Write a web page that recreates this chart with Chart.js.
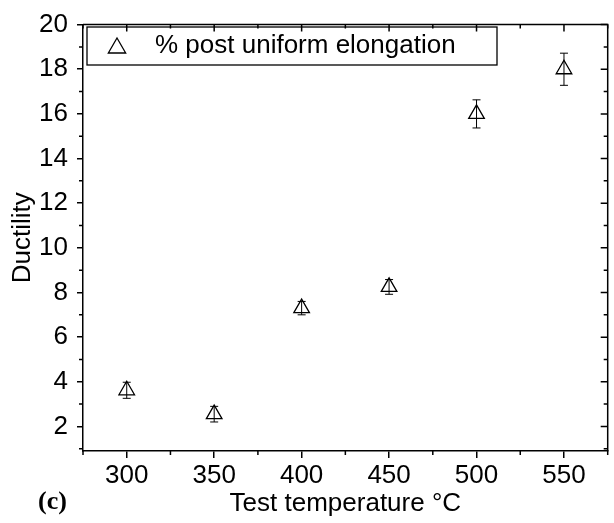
<!DOCTYPE html>
<html>
<head>
<meta charset="utf-8">
<script src="https://cdn.jsdelivr.net/npm/chart.js@4.4.0/dist/chart.umd.min.js"></script>
<style>
  html, body { margin: 0; padding: 0; background: #fff; overflow: hidden; }
  #wrap { position: relative; width: 618px; height: 523px; }
</style>
</head>
<body>
<div id="wrap"><canvas id="ductilityChart"></canvas></div>
<script>
const temperatures = [300, 350, 400, 450, 500, 550];
const ductility = [3.62, 2.55, 7.3, 8.25, 16.0, 18.0];
const ductilityErr = [0.36, 0.35, 0.3, 0.33, 0.63, 0.72];
const xTicks = [300, 350, 400, 450, 500, 550];
const yTicks = [2, 4, 6, 8, 10, 12, 14, 16, 18, 20];
const seriesLabel = '% post uniform elongation';

const FONT = "'Liberation Sans', Arial, sans-serif";

// minor ticks, top/right mirror axes, legend box and panel tag
const framePlugin = {
    id: 'frame',
    afterDraw(chart) {
        const ctx = chart.ctx;
        const a = chart.chartArea;
        const xs = chart.scales.x;
        const ys = chart.scales.y;
        ctx.save();
        ctx.strokeStyle = '#000';
        ctx.lineWidth = 1.5;
        ctx.beginPath();
        ctx.moveTo(a.left, a.top);
        ctx.lineTo(a.right, a.top);
        ctx.lineTo(a.right, a.bottom);
        ctx.stroke();

        const step = xTicks[1] - xTicks[0];
        ctx.beginPath();
        xTicks.forEach(v => {
            const px = xs.getPixelForValue(v);
            ctx.moveTo(px, a.top); ctx.lineTo(px, a.top + 7);
        });
        for (let v = xTicks[0] - step / 2; v <= xs.max; v += step) {
            const px = xs.getPixelForValue(v);
            ctx.moveTo(px, a.bottom); ctx.lineTo(px, a.bottom + 4);
            ctx.moveTo(px, a.top); ctx.lineTo(px, a.top + 4);
        }
        const ystep = yTicks[1] - yTicks[0];
        yTicks.forEach(v => {
            const py = ys.getPixelForValue(v);
            ctx.moveTo(a.right, py); ctx.lineTo(a.right - 7, py);
        });
        for (let v = yTicks[0] - ystep / 2; v < ys.max; v += ystep) {
            if (v < ys.min) continue;
            const py = ys.getPixelForValue(v);
            ctx.moveTo(a.left, py); ctx.lineTo(a.left - 4, py);
            ctx.moveTo(a.right, py); ctx.lineTo(a.right - 4, py);
        }
        ctx.stroke();

        // legend box
        ctx.lineWidth = 1.3;
        ctx.strokeRect(87, 27, 410, 38);
        ctx.fillStyle = 'rgba(0,0,0,0)';
        Chart.helpers.drawPoint(ctx, { pointStyle: 'triangle', radius: 10, borderWidth: 1.3 }, 117, 48);
        ctx.fillStyle = '#000';
        ctx.font = '26px ' + FONT;
        ctx.textBaseline = 'middle';
        ctx.fillText(chart.data.datasets[0].label, 155, 46);

        ctx.font = "bold 26px 'Liberation Serif', 'Times New Roman', serif";
        ctx.fillText('(c)', 38, 502);
        ctx.restore();
    }
};

const errorBarPlugin = {
    id: 'errorBars',
    beforeDatasetsDraw(chart) {
        const ctx = chart.ctx;
        const xs = chart.scales.x;
        const ys = chart.scales.y;
        ctx.save();
        ctx.strokeStyle = '#000';
        ctx.lineWidth = 1;
        ctx.beginPath();
        temperatures.forEach((t, i) => {
            const px = xs.getPixelForValue(t);
            const top = ys.getPixelForValue(ductility[i] + ductilityErr[i]);
            const bot = ys.getPixelForValue(ductility[i] - ductilityErr[i]);
            ctx.moveTo(px, top); ctx.lineTo(px, bot);
            ctx.moveTo(px - 4, top); ctx.lineTo(px + 4, top);
            ctx.moveTo(px - 4, bot); ctx.lineTo(px + 4, bot);
        });
        ctx.stroke();
        ctx.restore();
    }
};

new Chart(document.getElementById('ductilityChart'), {
    type: 'scatter',
    data: {
        datasets: [{
            label: seriesLabel,
            data: temperatures.map((t, i) => ({ x: t, y: ductility[i] })),
            pointStyle: 'triangle',
            pointRadius: 9,
            pointHoverRadius: 9,
            borderColor: '#000',
            backgroundColor: 'rgba(0,0,0,0)',
            borderWidth: 1.3
        }]
    },
    options: {
        responsive: true,
        maintainAspectRatio: false,
        animation: false,
        layout: { padding: { top: 20, right: 3, left: 0, bottom: 0 } },
        plugins: {
            legend: { display: false },
            tooltip: { enabled: false }
        },
        scales: {
            x: {
                type: 'linear',
                min: 275,
                max: 575,
                afterFit: s => { s.height = 72; },
                afterBuildTicks: s => { s.ticks = xTicks.map(v => ({ value: v })); },
                border: { color: '#000', width: 1.5 },
                grid: { drawOnChartArea: false, color: '#000', tickLength: 7, lineWidth: 1.5 },
                ticks: { color: '#000', font: { family: FONT, size: 26 }, padding: 2, maxRotation: 0 },
                title: { display: true, text: 'Test temperature °C', color: '#000', font: { family: FONT, size: 26 }, padding: { top: 0, bottom: 4 } }
            },
            y: {
                type: 'linear',
                min: 0.9,
                max: 20,
                afterFit: s => { s.width = 83; },
                afterBuildTicks: s => { s.ticks = yTicks.map(v => ({ value: v })); },
                border: { color: '#000', width: 1.5 },
                grid: { drawOnChartArea: false, color: '#000', tickLength: 6, lineWidth: 1.5 },
                ticks: { color: '#000', font: { family: FONT, size: 26 }, padding: 9 },
                title: { display: true, text: 'Ductility', color: '#000', font: { family: FONT, size: 26 }, padding: { top: 7, bottom: 0 } }
            }
        }
    },
    plugins: [framePlugin, errorBarPlugin]
});
</script>
</body>
</html>
